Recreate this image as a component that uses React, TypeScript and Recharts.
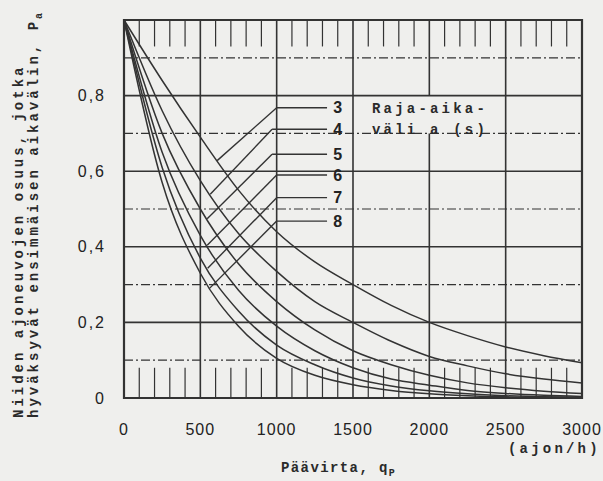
import React from 'react';
import {
  LineChart,
  Line,
  XAxis,
  YAxis,
  ReferenceLine,
  ReferenceArea,
  ReferenceDot,
} from 'recharts';

// pääsuuntainen virta q_p (ajon/h)
const flows = [0, 250, 500, 750, 1000, 1250, 1500, 1750, 2000, 2250, 2500, 2750, 3000];

// osuus p_a eri raja-aikaväleillä a (s)
const gap3 = [1.0, 0.84, 0.69, 0.55, 0.44, 0.36, 0.3, 0.245, 0.2, 0.165, 0.135, 0.112, 0.093];
const gap4 = [1.0, 0.76, 0.575, 0.435, 0.335, 0.255, 0.2, 0.15, 0.11, 0.085, 0.064, 0.05, 0.04];
const gap5 = [1.0, 0.7, 0.5, 0.355, 0.255, 0.18, 0.125, 0.088, 0.06, 0.04, 0.027, 0.018, 0.012];
const gap6 = [1.0, 0.65, 0.43, 0.285, 0.19, 0.125, 0.08, 0.05, 0.034, 0.02, 0.012, 0.007, 0.004];
const gap7 = [1.0, 0.61, 0.37, 0.23, 0.14, 0.088, 0.053, 0.032, 0.019, 0.011, 0.006, 0.003, 0.002];
const gap8 = [1.0, 0.57, 0.33, 0.19, 0.105, 0.06, 0.035, 0.02, 0.011, 0.006, 0.003, 0.002, 0.001];

const gapNames = ['3', '4', '5', '6', '7', '8'];
const gapSeries = [gap3, gap4, gap5, gap6, gap7, gap8];

// selitteiden viivat
const labelLevels = [0.768, 0.711, 0.645, 0.59, 0.53, 0.468];
const leaderStartQ = [1000, 970, 970, 1000, 1000, 1000];
const leaderEndQ = [610, 565, 545, 545, 548, 560];
const leaderEndP = [0.628, 0.539, 0.474, 0.404, 0.343, 0.29];
const labelLineEndQ = 1330;
const labelTextQ = 1400;

const xTicks = [0, 500, 1000, 1500, 2000, 2500, 3000];
const yTicks = [0, 0.2, 0.4, 0.6, 0.8];
const majorX = [500, 1000, 1500, 2500];
const majorY = [0.2, 0.4, 0.6, 0.8];
const minorY = [0.1, 0.3, 0.5, 0.7, 0.9];
const smallTicksQ = [100, 200, 300, 400, 600, 700, 800, 900, 1100, 1200, 1300, 1400, 1600, 1700, 1800, 1900, 2100, 2200, 2300, 2400, 2600, 2700, 2800, 2900];

const data = flows.map((q, i) => {
  const row: Record<string, number> = { q };
  gapNames.forEach((name, k) => {
    row['a' + name] = gapSeries[k][i];
  });
  return row;
});

const INK = '#333333';
const PAPER = '#efefed';
const mono = '"Liberation Mono", "DejaVu Sans Mono", monospace';
const sans = '"Liberation Sans", Arial, sans-serif';

export default function App() {
  return (
    <div style={{ position: 'absolute', left: 0, top: 0, width: 603, height: 481, background: PAPER }}>
      <LineChart
        width={603}
        height={481}
        data={data}
        margin={{ top: 20, right: 21, bottom: 43, left: 74 }}
      >
        <XAxis
          dataKey="q"
          type="number"
          domain={[0, 3000]}
          ticks={xTicks}
          axisLine={false}
          tickLine={false}
          tickMargin={20}
          height={40}
          tick={{ fill: '#222', fontSize: 16, fontFamily: sans, letterSpacing: 1 }}
        />
        <YAxis
          type="number"
          domain={[0, 1]}
          ticks={yTicks}
          axisLine={false}
          tickLine={false}
          tickMargin={12}
          width={50}
          tickFormatter={(v: number) => (v === 0 ? '0' : v.toFixed(1).replace('.', ','))}
          tick={{ fill: '#222', fontSize: 16, fontFamily: sans, letterSpacing: 2 }}
        />

        {minorY.map((y) => (
          <ReferenceLine key={'my' + y} y={y} stroke={INK} strokeWidth={1.2} strokeDasharray="9 3 2 3" />
        ))}
        {majorY.map((y) => (
          <ReferenceLine key={'My' + y} y={y} stroke={INK} strokeWidth={1.6} />
        ))}
        {majorX.map((x) => (
          <ReferenceLine key={'Mx' + x} x={x} stroke={INK} strokeWidth={1.6} />
        ))}
        {/* 2000-viiva katkeaa tekstin kohdalla */}
        <ReferenceLine segment={[{ x: 2000, y: 0 }, { x: 2000, y: 0.7 }]} stroke={INK} strokeWidth={1.6} />
        <ReferenceLine segment={[{ x: 2000, y: 0.8 }, { x: 2000, y: 1 }]} stroke={INK} strokeWidth={1.6} />
        {smallTicksQ.map((q) => (
          <ReferenceLine
            key={'tt' + q}
            segment={[{ x: q, y: 1 }, { x: q, y: 0.93 }]}
            stroke={INK}
            strokeWidth={1.2}
          />
        ))}
        {smallTicksQ.map((q) => (
          <ReferenceLine
            key={'bt' + q}
            segment={[{ x: q, y: 0 }, { x: q, y: 0.08 }]}
            stroke={INK}
            strokeWidth={1.2}
          />
        ))}
        <ReferenceArea x1={0} x2={3000} y1={0} y2={1} fill="none" stroke={INK} strokeWidth={2.2} />

        {gapNames.map((name) => (
          <Line
            key={name}
            dataKey={'a' + name}
            type="monotone"
            stroke={INK}
            strokeWidth={1.5}
            dot={false}
            isAnimationActive={false}
          />
        ))}

        {gapNames.map((name, i) => (
          <ReferenceLine
            key={'lh' + name}
            segment={[{ x: leaderStartQ[i], y: labelLevels[i] }, { x: labelLineEndQ, y: labelLevels[i] }]}
            stroke={INK}
            strokeWidth={1.4}
          />
        ))}
        {gapNames.map((name, i) => (
          <ReferenceLine
            key={'ld' + name}
            segment={[{ x: leaderStartQ[i], y: labelLevels[i] }, { x: leaderEndQ[i], y: leaderEndP[i] }]}
            stroke={INK}
            strokeWidth={1.4}
          />
        ))}
        {gapNames.map((name, i) => (
          <ReferenceDot
            key={'lt' + name}
            x={labelTextQ}
            y={labelLevels[i]}
            r={1}
            fill="none"
            stroke="none"
            label={{ value: name, position: 'center', fill: '#222', fontSize: 16, fontWeight: 700, fontFamily: sans }}
          />
        ))}
      </LineChart>

      <svg
        width={603}
        height={481}
        style={{ position: 'absolute', left: 0, top: 0, pointerEvents: 'none' }}
      >
        <g fontFamily={mono} fontWeight={700} fill="#2a2a2a" fontSize={14}>
          <text x={372} y={113} letterSpacing={3.2}>Raja-aika-</text>
          <text x={372} y={134} letterSpacing={3.2}>väli a (s)</text>
          <text transform="translate(23,418) rotate(-90)" letterSpacing={3}>
            Niiden ajoneuvojen osuus, jotka
          </text>
          <text transform="translate(38,418) rotate(-90)" letterSpacing={3}>
            hyväksyvät ensimmäisen aikavälin, P
            <tspan fontSize={10} dy={4}>a</tspan>
          </text>
          <text x={281} y={472} letterSpacing={1.4}>
            Päävirta, q
            <tspan fontSize={10} dy={4}>P</tspan>
          </text>
          <text x={508} y={453} letterSpacing={3.2}>(ajon/h)</text>
        </g>
      </svg>
    </div>
  );
}
